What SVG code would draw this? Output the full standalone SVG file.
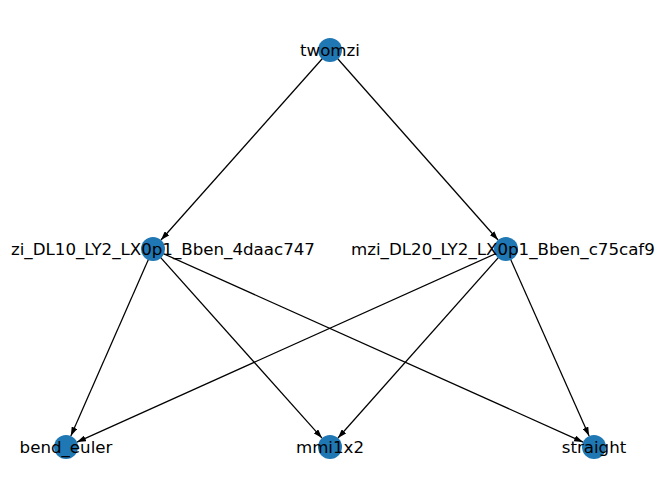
<svg xmlns="http://www.w3.org/2000/svg" width="660" height="499" viewBox="0 0 660 499">
<style>
.edge{stroke:#000;stroke-width:1.25;fill:none;marker-end:url(#ah)}
.node{fill:#1f77b4}
.lbl{font-family:"DejaVu Sans",sans-serif;font-size:16.67px;fill:#000}
</style>
<defs>
<marker id="ah" markerUnits="userSpaceOnUse" markerWidth="9" markerHeight="6" viewBox="0 0 9 6" refX="9" refY="3" orient="auto">
<path d="M0,0 L9,3 L0,6 Z" fill="#000"/>
</marker>
</defs>
<rect width="660" height="499" fill="#fff"/>
<g id="edges">
<line class="edge" x1="330" y1="50" x2="160.98" y2="240.03"/>
<line class="edge" x1="330" y1="50" x2="498.05" y2="240.01"/>
<line class="edge" x1="153" y1="249" x2="70.83" y2="436.02"/>
<line class="edge" x1="153" y1="249" x2="322.0" y2="438.05"/>
<line class="edge" x1="153" y1="249" x2="583.05" y2="442.08"/>
<line class="edge" x1="506" y1="249" x2="76.94" y2="442.08"/>
<line class="edge" x1="506" y1="249" x2="337.97" y2="438.03"/>
<line class="edge" x1="506" y1="249" x2="589.13" y2="436.04"/>
</g>
<g id="twomzi"><circle class="node" cx="330" cy="50" r="12"/><text class="lbl" x="330" y="56" text-anchor="middle">twomzi</text></g>
<g id="mzi_DL10"><circle class="node" cx="153" cy="249" r="12"/><text class="lbl" x="11" y="255">zi_DL10_LY2_LX0p1_Bben_4daac747</text></g>
<g id="mzi_DL20"><circle class="node" cx="506" cy="249" r="12"/><text class="lbl" x="351" y="255">mzi_DL20_LY2_LX0p1_Bben_c75caf9</text></g>
<g id="bend_euler"><circle class="node" cx="66" cy="447" r="12"/><text class="lbl" x="66" y="453" text-anchor="middle">bend_euler</text></g>
<g id="mmi1x2"><circle class="node" cx="330" cy="447" r="12"/><text class="lbl" x="330" y="453" text-anchor="middle">mmi1x2</text></g>
<g id="straight"><circle class="node" cx="594" cy="447" r="12"/><text class="lbl" x="594" y="453" text-anchor="middle">straight</text></g>
</svg>
